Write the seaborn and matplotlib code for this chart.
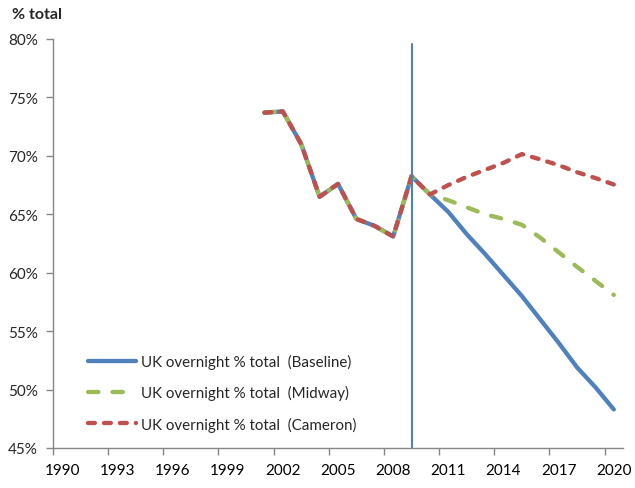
import matplotlib
matplotlib.use("Agg")
import matplotlib.pyplot as plt
import numpy as np
import pandas as pd
import seaborn as sns
from matplotlib.ticker import FixedLocator, FuncFormatter

# ---- data ----
years = list(range(2001, 2021))
historic = [73.7, 73.8, 71.0, 66.5, 67.6, 64.6, 64.0, 63.1, 68.25]
baseline_proj = [66.7, 65.2, 63.3, 61.6, 59.8, 58.0, 56.0, 54.0, 51.9, 50.2, 48.3]
midway_proj = [66.7, 66.2, 65.6, 65.0, 64.6, 64.1, 63.0, 61.75, 60.5, 59.3, 58.1]
cameron_proj = [66.7, 67.5, 68.2, 68.8, 69.4, 70.15, 69.7, 69.2, 68.6, 68.1, 67.55]
series_names = ["UK overnight % total  (Baseline)",
                "UK overnight % total  (Midway)",
                "UK overnight % total  (Cameron)"]
x_tick_years = list(range(1990, 2021, 3))
y_ticks = [45, 50, 55, 60, 65, 70, 75, 80]
marker_year = 2009

series_values = [historic + baseline_proj, historic + midway_proj, historic + cameron_proj]
df = pd.DataFrame({name: vals for name, vals in zip(series_names, series_values)}, index=years)

colors = ["#4F81BD", "#9BBB59", "#C0504D"]
dash_styles = [None, (2.4, 3.3), (1.6, 2.1)]

sns.set_style("white")
plt.rcParams["font.family"] = ["Lato", "DejaVu Sans"]

fig = plt.figure(figsize=(6.35, 4.89), dpi=100)
ax = fig.add_axes([53 / 635, 1 - 449 / 489, 570 / 635, 409 / 489])

for name, col, ds in zip(series_names, colors, dash_styles):
    sns.lineplot(x=df.index, y=df[name], ax=ax, color=col, linewidth=3.1,
                 label=name, solid_capstyle="round", dash_capstyle="round")
    line = ax.get_lines()[-1]
    if ds is not None:
        line.set_dashes(ds)

ax.plot([marker_year, marker_year], [45, 79.6], color="#4F81BD", lw=1.5, zorder=5)

ax.set_xlim(1989.5, 2020.5)
ax.set_ylim(45, 80)
ax.xaxis.set_major_locator(FixedLocator(x_tick_years))
ax.xaxis.set_minor_locator(FixedLocator([y - 0.5 for y in x_tick_years]))
ax.set_xticklabels([str(y) for y in x_tick_years])
ax.yaxis.set_major_locator(FixedLocator(y_ticks))
ax.yaxis.set_major_formatter(FuncFormatter(lambda v, p: f"{v:.0f}%"))
ax.tick_params(axis="x", which="major", length=0, pad=11, labelsize=11, colors="black")
ax.tick_params(axis="x", which="minor", length=5, width=1.0, color="#868686", bottom=True)
ax.tick_params(axis="y", which="major", length=5, width=1.0, color="#868686", pad=6,
               labelsize=11, left=True)
ax.set_xlabel("")
ax.set_ylabel("")
for s in ["top", "right"]:
    ax.spines[s].set_visible(False)
for s in ["left", "bottom"]:
    ax.spines[s].set_color("#868686")
    ax.spines[s].set_linewidth(1.0)

handles, labels = ax.get_legend_handles_labels()
ax.legend(handles[:3], labels[:3], loc="lower left", bbox_to_anchor=(0.061, 0.04),
          frameon=False, fontsize=10.9, handlelength=3.2, handletextpad=0.3,
          labelspacing=1.07, borderpad=0, borderaxespad=0)

fig.text(12 / 635, 1 - 15 / 489, "% total", fontsize=11.5, fontweight="bold",
         ha="left", va="center")

fig.savefig("out.png", dpi=100)
